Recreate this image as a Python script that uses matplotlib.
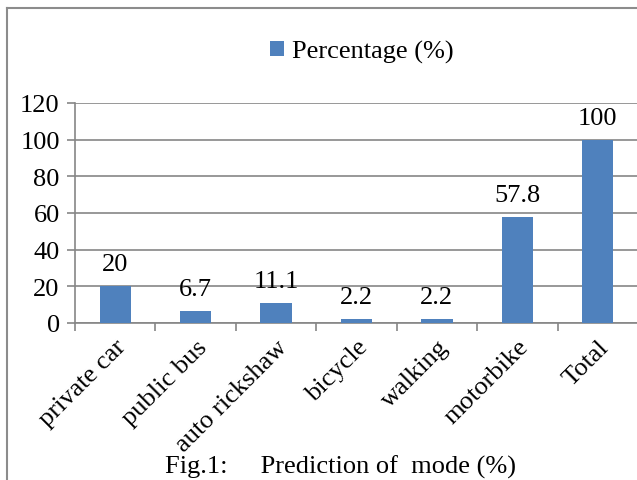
import numpy as np
import matplotlib.pyplot as plt
from matplotlib.lines import Line2D

modes = ['private car', 'public bus', 'auto rickshaw', 'bicycle',
         'walking', 'motorbike', 'Total']
percentage = [20, 6.7, 11.1, 2.2, 2.2, 57.8, 100]
value_labels = ['20', '6.7', '11.1', '2.2', '2.2', '57.8', '100']


def main():
    plt.rcParams['font.family'] = 'Liberation Serif'
    fs = 19
    bar_color = '#4F81BD'
    grid_color = '#868686'

    fig = plt.figure(figsize=(6.37, 4.81), dpi=100)
    ax = fig.add_axes([75 / 637, 1 - 324 / 481, 563 / 637, 220 / 481])

    x = np.arange(len(modes))
    ax.bar(x, percentage, width=0.39, color=bar_color, zorder=3,
           label='Percentage (%)')
    for xi, v, s in zip(x, percentage, value_labels):
        ax.annotate(s, (xi, v), xytext=(0, 8), textcoords='offset points',
                    ha='center', va='bottom', fontsize=fs)

    ax.set_xlim(-0.5, len(modes) - 0.5)
    ax.set_ylim(0, 120)
    ax.set_yticks(np.arange(0, 121, 20))
    ax.yaxis.grid(True, color=grid_color, linewidth=1.2, zorder=0)
    ax.tick_params(axis='y', labelsize=fs, length=6, width=1.2,
                   color=grid_color, pad=5)

    # category ticks sit between the bars
    ax.set_xticks(np.arange(-0.5, len(modes) + 0.5, 1.0))
    ax.set_xticklabels([])
    ax.tick_params(axis='x', length=6, width=1.2, color=grid_color)
    ax.set_xticks(x, minor=True)
    ax.set_xticklabels(modes, minor=True, rotation=45, ha='right',
                       rotation_mode='anchor', fontsize=fs)
    ax.tick_params(axis='x', which='minor', length=0, pad=9)

    for side in ['top', 'right']:
        ax.spines[side].set_visible(False)
    for side in ['left', 'bottom']:
        ax.spines[side].set_color(grid_color)
        ax.spines[side].set_linewidth(1.2)

    fig.legend(loc='center', bbox_to_anchor=(0.568, 0.89), frameon=False,
               fontsize=fs, handlelength=0.5, handleheight=0.5,
               handletextpad=0.3)

    # chart frame (right and bottom edges run off the picture)
    fig.add_artist(Line2D([7 / 637, 1.0], [1 - 9 / 481, 1 - 9 / 481],
                          transform=fig.transFigure, color='#8c8c8c', lw=1.5))
    fig.add_artist(Line2D([7 / 637, 7 / 637], [0.0, 1 - 9 / 481],
                          transform=fig.transFigure, color='#8c8c8c', lw=1.5))

    fig.text(0.534, 1 - 474 / 481, 'Fig.1:     Prediction of  mode (%)',
             ha='center', va='baseline', fontsize=fs)

    fig.savefig('out.png', dpi=100)


if __name__ == "__main__":
    main()
